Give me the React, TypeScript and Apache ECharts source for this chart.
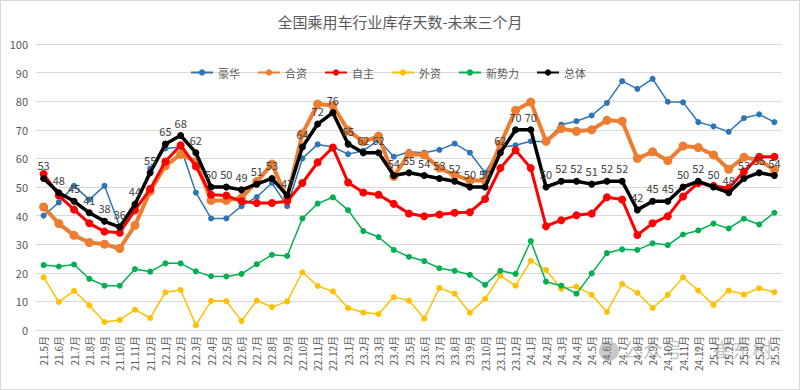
import React, { useEffect, useRef } from "react";
import * as echarts from "echarts";

const categories = [
  "21.5月","21.6月","21.7月","21.8月","21.9月","21.10月","21.11月","21.12月",
  "22.1月","22.2月","22.3月","22.4月","22.5月","22.6月","22.7月","22.8月","22.9月","22.10月","22.11月","22.12月",
  "23.1月","23.2月","23.3月","23.4月","23.5月","23.6月","23.7月","23.8月","23.9月","23.10月","23.11月","23.12月",
  "24.1月","24.2月","24.3月","24.4月","24.5月","24.6月","24.7月","24.8月","24.9月","24.10月","24.11月","24.12月",
  "25.1月","25.2月","25.3月","25.4月","25.5月",
];

const luxury = [
  40, 44.6, 50.4, 45.6, 50.4, 36.3, 43, 56.5, 63.5, 64, 48, 39, 39, 43.3, 46.5, 51.4, 43.3, 60, 64.9, 64,
  61.5, 62.7, 66.4, 60.6, 62.3, 62, 63, 65.2, 62, 55, 63.8, 64.6, 66, 65.8, 71.8, 73, 75, 79.4, 87, 84.3,
  87.8, 79.8, 79.6, 72.7, 71.2, 69.3, 74.1, 75.4, 72.7,
];
const jointVenture = [
  43, 37.2, 33.1, 30.6, 30, 28.5, 36.6, 48.5, 57.4, 61.4, 58.9, 45.3, 45.3, 46.2, 51.9, 58, 46, 68.7, 79, 78.5,
  69.8, 65.8, 67.8, 53.7, 61.5, 61.2, 56.6, 54.2, 52.3, 52.3, 65, 76.8, 79.7, 66, 70.4, 69.5, 70, 73.3, 73, 60,
  62.3, 59.2, 64.3, 63.8, 61.2, 56.2, 60.4, 59.4, 56,
];
const domestic = [
  54.6, 47, 42.1, 37.3, 34.4, 34, 41.9, 49.3, 58.9, 64.6, 57.2, 47.3, 47, 45, 44.4, 44.4, 45, 51.4, 58.6, 63.8,
  51.6, 48.1, 47.3, 44.1, 40.7, 39.8, 40.4, 41, 41.2, 45.8, 56.6, 62.9, 56.6, 36.3, 38.4, 40.1, 40.7, 46.4, 45.6, 33.2,
  37.3, 39.8, 46.7, 51.4, 50.4, 49.6, 55.4, 60.6, 60.6,
];
const foreign = [
  18.4, 9.8, 13.7, 8.6, 2.8, 3.5, 7.1, 4.2, 13.2, 14, 1.7, 10.2, 10.1, 3.2, 10.3, 8, 10, 20.2, 15.4, 13.5,
  7.7, 6.1, 5.6, 11.5, 10.3, 4, 14.7, 12.7, 6, 10.9, 19, 15.5, 24.2, 21, 14.4, 15.2, 12.3, 6.3, 16.1, 13,
  7.7, 12.3, 18.4, 13.8, 8.8, 13.8, 12.4, 14.6, 13.2,
];
const newForces = [
  22.7, 22.2, 22.9, 17.9, 15.5, 15.5, 21.3, 20.4, 23.3, 23.3, 20.5, 18.8, 18.7, 19.6, 23, 26.3, 25.9, 39, 44.2, 46.4,
  41.9, 34.6, 32.5, 28, 25.6, 24.1, 21.6, 20.7, 19.3, 15.8, 20.7, 19.6, 31.1, 16.9, 15.5, 12.7, 19.8, 26.9, 28.2, 28,
  30.3, 29.7, 33.4, 34.8, 37.2, 35.5, 38.9, 36.9, 41,
];
const total = [
  53, 48, 45, 41, 38, 36, 44, 55, 65, 68, 62, 50, 50, 49, 51, 53, 47, 64, 72, 76,
  65, 62, 62, 54, 55, 54, 53, 52, 50, 50, 62, 70, 70, 50, 52, 52, 51, 52, 52, 42,
  45, 45, 50, 52, 50, 48, 53, 55, 54,
];

const yTicks = { min: 0, max: 100, interval: 10 };

export default function App() {
  const ref = useRef<HTMLDivElement>(null);
  useEffect(() => {
    document.body.style.margin = "0";
    const chart = echarts.init(ref.current!, undefined, { renderer: "svg" });
    const font = "'Microsoft YaHei', 'Noto Sans CJK SC', sans-serif";
    const mk = (name: string, data: number[], color: string, width: number, symbolSize: number, z: number, label = false) => ({
      name,
      type: "line",
      data,
      z,
      symbol: "circle",
      symbolSize,
      lineStyle: { color, width },
      itemStyle: { color },
      label: label
        ? { show: true, position: "top", distance: 4, color: "#404040", fontSize: 11, fontFamily: font }
        : { show: false },
    });
    chart.setOption({
      animation: false,
      backgroundColor: "#ffffff",
      textStyle: { fontFamily: font },
      title: {
        text: "全国乘用车行业库存天数-未来三个月",
        left: "center",
        top: 8,
        textStyle: { fontSize: 15, fontWeight: "normal", color: "#595959", fontFamily: font },
      },
      legend: {
        top: 61,
        left: 184,
        itemWidth: 22,
        itemHeight: 8,
        itemGap: 17,
        textStyle: { color: "#595959", fontSize: 11, fontFamily: font },
        data: ["豪华", "合资", "自主", "外资", "新势力", "总体"],
      },
      grid: { left: 35, right: 17, top: 43, bottom: 59, containLabel: false },
      xAxis: {
        type: "category",
        data: categories,
        boundaryGap: true,
        axisLine: { lineStyle: { color: "#d9d9d9" } },
        axisTick: { show: false },
        axisLabel: { rotate: 90, interval: 0, color: "#595959", fontSize: 10, margin: 6, fontFamily: font },
      },
      yAxis: {
        type: "value",
        min: yTicks.min,
        max: yTicks.max,
        interval: yTicks.interval,
        axisLine: { show: false },
        axisTick: { show: false },
        axisLabel: { color: "#595959", fontSize: 11, margin: 8, fontFamily: font },
        splitLine: { lineStyle: { color: "#d9d9d9" } },
      },
      graphic: [
        {
          type: "circle",
          left: 598,
          top: 340,
          z: 100,
          shape: { r: 10 },
          style: { fill: "rgba(120,120,120,0.4)" },
        },
        {
          type: "text",
          left: 622,
          top: 338,
          z: 100,
          style: { text: "公众号 · 崔东树", fill: "rgba(120,120,120,0.45)", fontSize: 20, fontFamily: font },
        },
      ],
      series: [
        mk("豪华", luxury, "#2E75B6", 1.5, 6, 2),
        mk("合资", jointVenture, "#ED7D31", 4, 9, 3),
        mk("自主", domestic, "#FF0000", 3, 8, 4),
        mk("外资", foreign, "#FFC000", 1.5, 6, 2),
        mk("新势力", newForces, "#00B050", 1.5, 6, 2),
        mk("总体", total, "#000000", 3.5, 7, 5, true),
      ],
    });
    return () => chart.dispose();
  }, []);
  return (
    <div
      ref={ref}
      style={{ width: 798, height: 388, border: "1px solid #d9d9d9", position: "absolute", left: 0, top: 0 }}
    />
  );
}
